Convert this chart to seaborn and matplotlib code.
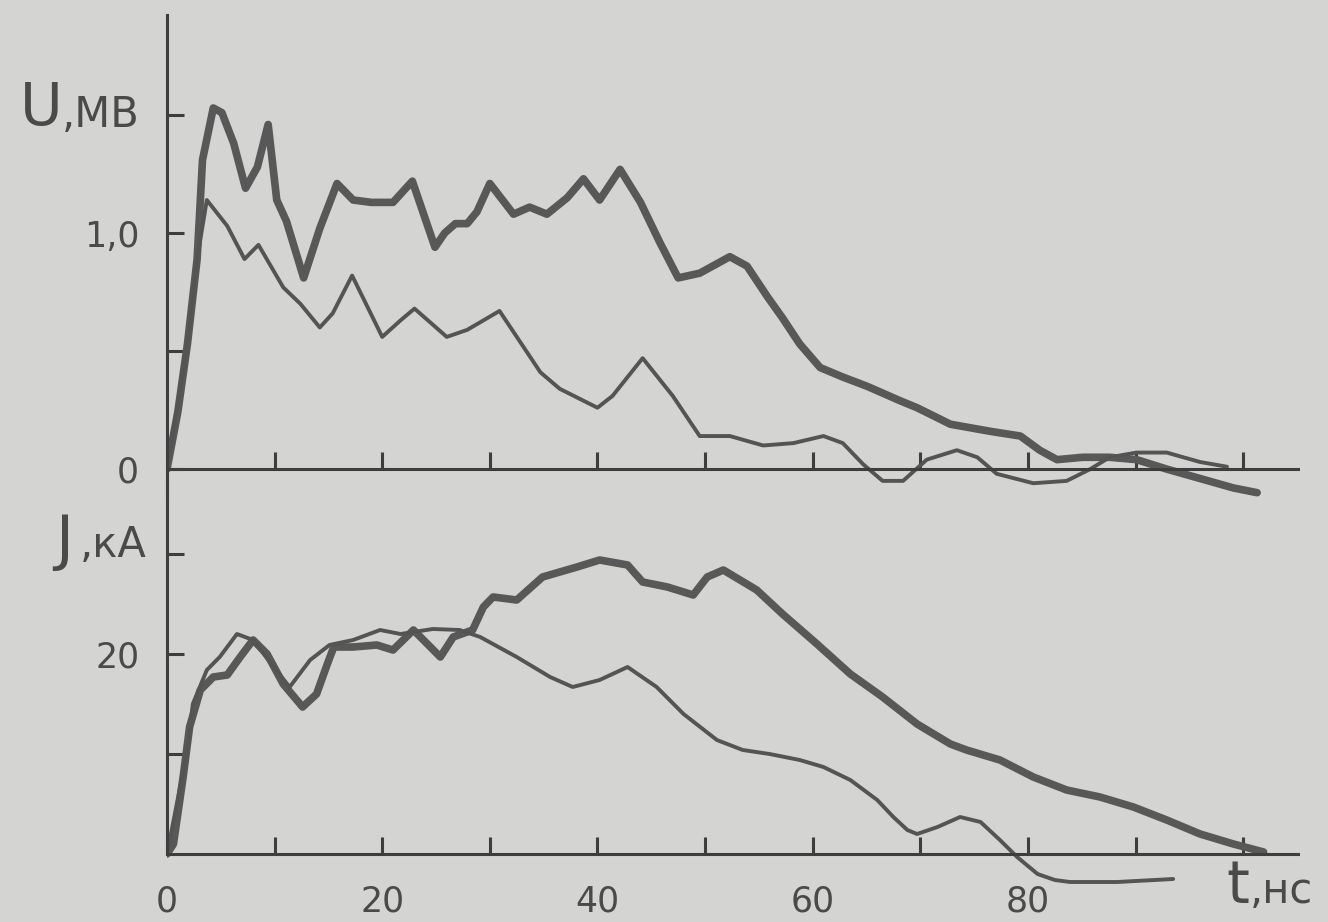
import matplotlib
matplotlib.use("Agg")
import matplotlib.pyplot as plt
import seaborn as sns

u_thick_t = [0, 1.0, 1.9, 2.8, 3.3, 4.3, 5.1, 6.2, 7.3, 8.4, 9.4, 10.2, 11.1, 12.7, 14.2,
             15.8, 17.3, 19.0, 21.0, 22.8, 24.9, 25.8, 26.8, 27.9, 28.8, 30.0, 32.2, 33.7,
             35.3, 37.2, 38.7, 40.2, 42.1, 44.0, 45.8, 47.5, 49.5, 52.3, 53.9, 55.8, 57.2,
             58.8, 60.7, 62.8, 65.1, 68.1, 69.7, 72.8, 76.5, 79.3, 81.1, 82.7, 85.1, 87.6,
             90.1, 92.9, 96.0, 99.1, 101.3]
u_thick = [0, 0.24, 0.53, 0.89, 1.31, 1.53, 1.51, 1.38, 1.19, 1.28, 1.46, 1.14, 1.05, 0.81,
           1.02, 1.21, 1.14, 1.13, 1.13, 1.22, 0.94, 1.00, 1.04, 1.04, 1.09, 1.21, 1.08, 1.11,
           1.08, 1.15, 1.23, 1.14, 1.27, 1.13, 0.96, 0.81, 0.83, 0.90, 0.86, 0.73, 0.64,
           0.53, 0.43, 0.39, 0.35, 0.29, 0.26, 0.19, 0.16, 0.14, 0.08, 0.04, 0.05, 0.05,
           0.04, 0.00, -0.04, -0.08, -0.10]

u_thin_t = [0, 1.9, 2.8, 3.7, 5.6, 7.2, 8.5, 10.8, 12.4, 14.2, 15.4, 17.2, 18.6, 20.0, 21.7,
            23.0, 26.0, 27.9, 30.9, 34.7, 36.5, 40.0, 41.4, 44.2, 47.0, 49.5, 52.3, 55.4,
            58.2, 61.0, 62.8, 64.7, 66.5, 68.4, 70.6, 73.4, 75.3, 77.1, 80.5, 83.6, 85.8,
            87.6, 90.1, 92.9, 96.0, 98.5]
u_thin = [0, 0.53, 0.89, 1.14, 1.03, 0.89, 0.95, 0.77, 0.70, 0.60, 0.66, 0.82, 0.69, 0.56,
          0.63, 0.68, 0.56, 0.59, 0.67, 0.41, 0.34, 0.26, 0.31, 0.47, 0.31, 0.14, 0.14,
          0.10, 0.11, 0.14, 0.11, 0.02, -0.05, -0.05, 0.04, 0.08, 0.05, -0.02, -0.06,
          -0.05, 0.00, 0.05, 0.07, 0.07, 0.03, 0.01]

j_thick_t = [0, 0.6, 1.5, 2.1, 3.1, 4.3, 5.6, 6.8, 8.0, 9.3, 10.8, 12.6, 13.9, 14.9, 15.5,
             17.3, 19.5, 21.0, 22.9, 24.2, 25.4, 26.6, 28.4, 29.4, 30.3, 32.5, 34.9, 38.1,
             40.2, 42.8, 44.2, 46.5, 48.9, 50.2, 51.7, 54.8, 57.2, 60.4, 63.5, 66.5, 69.7,
             72.8, 74.3, 77.4, 80.5, 83.6, 86.7, 89.8, 92.9, 96.0, 99.1, 101.9]
j_thick = [0, 1.0, 7.7, 12.7, 16.4, 17.7, 17.9, 19.7, 21.4, 20.0, 17.0, 14.7, 16.0, 19.0,
           20.7, 20.7, 20.9, 20.4, 22.4, 21.0, 19.7, 21.7, 22.4, 24.7, 25.7, 25.4, 27.7,
           28.7, 29.4, 28.9, 27.2, 26.7, 25.9, 27.7, 28.4, 26.4, 24.0, 21.0, 18.0, 15.7,
           13.0, 11.0, 10.4, 9.4, 7.7, 6.4, 5.7, 4.7, 3.4, 2.0, 1.0, 0.2]

j_thin_t = [0, 1.0, 1.9, 2.4, 3.7, 4.9, 6.5, 8.0, 9.9, 11.4, 13.3, 15.1, 17.3, 19.8, 21.7,
            24.7, 27.2, 29.1, 32.5, 35.6, 37.7, 40.2, 42.8, 45.5, 48.0, 51.1, 53.5, 56.0,
            58.8, 61.0, 63.5, 66.0, 67.5, 68.8, 69.7, 71.6, 73.7, 75.6, 77.4, 79.0, 80.9,
            82.5, 83.9, 88.3, 93.5]
j_thin = [0, 5.5, 10.4, 15.0, 18.4, 19.7, 22.0, 21.4, 18.7, 16.7, 19.4, 20.9, 21.4, 22.4,
          22.0, 22.5, 22.4, 21.7, 19.7, 17.7, 16.7, 17.4, 18.7, 16.7, 14.0, 11.4, 10.4,
          10.0, 9.4, 8.7, 7.4, 5.4, 3.7, 2.4, 2.0, 2.7, 3.7, 3.2, 1.4, -0.3, -2.0, -2.6,
          -2.8, -2.8, -2.5]

x_ticks = [0, 10, 20, 30, 40, 50, 60, 70, 80, 90, 100]
x_labels = ["0", "", "20", "", "40", "", "60", "", "80", "", ""]
u_ticks = [0, 0.5, 1.0, 1.5]
u_labels = ["0", "", "1,0", ""]
j_ticks = [10, 20, 30]
j_labels = ["", "20", ""]

paper = "#d4d4d2"
ink = "#4a4a4a"
axis_ink = "#3e3e3e"

sns.set_theme(style="white")
plt.rcParams["font.family"] = ["DejaVu Sans"]

W, H = 1328, 922
fig = plt.figure(figsize=(W / 100, H / 100), dpi=100, facecolor=paper)


def px_box(left, top, right, bottom):
    return [left / W, 1 - bottom / H, (right - left) / W, (bottom - top) / H]


ax_u = fig.add_axes(px_box(167, 15, 1298, 500))
ax_j = fig.add_axes(px_box(167, 480, 1298, 910))

for ax in (ax_u, ax_j):
    ax.patch.set_alpha(0)
    ax.set_xlim(0, 105.1)
    for side in ("top", "right"):
        ax.spines[side].set_visible(False)
    for side in ("left", "bottom"):
        ax.spines[side].set_color(axis_ink)
        ax.spines[side].set_linewidth(2.2)
    ax.spines["bottom"].set_position(("data", 0))
    ax.tick_params(direction="in", length=12, width=2.2, color=axis_ink,
                   labelcolor=ink, labelsize=25, pad=20,
                   bottom=True, left=True, top=False, right=False)

ax_u.set_ylim(-0.131, 1.924)
ax_j.set_ylim(-5.6, 37.4)
ax_j.spines["left"].set_bounds(0, 37.4)

line_kw = dict(estimator=None, sort=False, legend=False,
               solid_joinstyle="round", solid_capstyle="round")
sns.lineplot(x=u_thick_t, y=u_thick, ax=ax_u, color="#585858", linewidth=5.5, **line_kw)
sns.lineplot(x=u_thin_t, y=u_thin, ax=ax_u, color="#545454", linewidth=2.8, **line_kw)
sns.lineplot(x=j_thick_t, y=j_thick, ax=ax_j, color="#585858", linewidth=5.5, **line_kw)
sns.lineplot(x=j_thin_t, y=j_thin, ax=ax_j, color="#545454", linewidth=2.8, **line_kw)

ax_u.set_xticks(x_ticks[1:])
ax_u.set_xticklabels([])
ax_u.set_yticks(u_ticks)
ax_u.set_yticklabels(u_labels)
ax_j.set_xticks(x_ticks)
ax_j.set_xticklabels(x_labels)
ax_j.tick_params(axis="x", pad=22)
ax_j.set_yticks(j_ticks)
ax_j.set_yticklabels(j_labels)

for ax in (ax_u, ax_j):
    ax.set_xlabel("")
    ax.set_ylabel("")

# axis names, hand lettered in the original
fig.text(20 / W, 1 - 125 / H, "U", fontsize=42, color=ink, va="baseline")
fig.text(62 / W, 1 - 127 / H, ",МВ", fontsize=30, color=ink, va="baseline")
fig.text(55 / W, 1 - 558 / H, "J", fontsize=44, color=ink, va="baseline")
fig.text(80 / W, 1 - 557 / H, ",кА", fontsize=30, color=ink, va="baseline")
fig.text(1226 / W, 1 - 903 / H, "t", fontsize=42, color=ink, va="baseline")
fig.text(1250 / W, 1 - 903 / H, ",нс", fontsize=30, color=ink, va="baseline")

fig.savefig("out.png", dpi=100, facecolor=paper)
